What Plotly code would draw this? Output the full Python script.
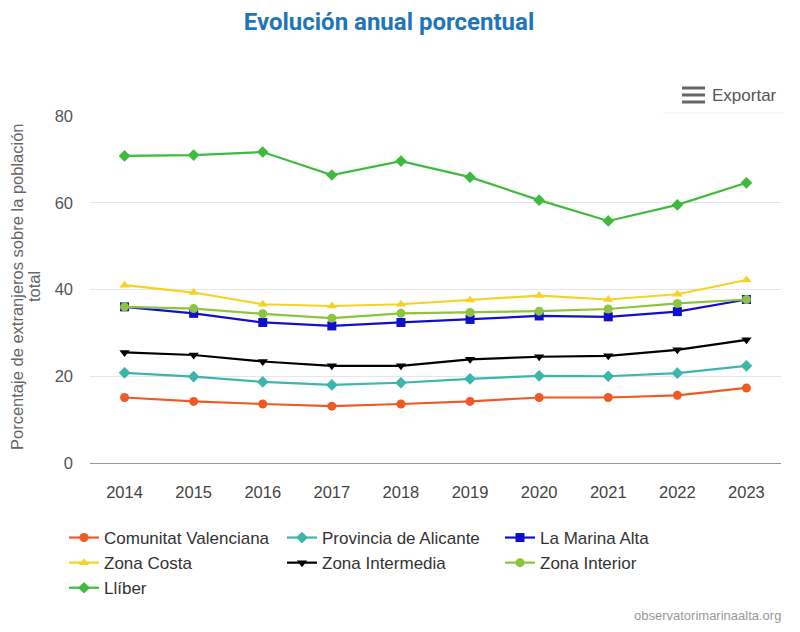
import plotly.graph_objects as go

years = ["2014", "2015", "2016", "2017", "2018", "2019", "2020", "2021", "2022", "2023"]

comunitat_valenciana = [15.1, 14.2, 13.6, 13.1, 13.6, 14.2, 15.1, 15.1, 15.6, 17.3]
provincia_alicante = [20.8, 19.9, 18.7, 18.0, 18.5, 19.4, 20.1, 20.0, 20.7, 22.4]
la_marina_alta = [36.0, 34.5, 32.4, 31.6, 32.4, 33.1, 33.9, 33.7, 34.9, 37.7]
zona_costa = [41.0, 39.3, 36.6, 36.2, 36.6, 37.6, 38.6, 37.7, 38.9, 42.2]
zona_intermedia = [25.5, 24.9, 23.4, 22.4, 22.4, 23.9, 24.5, 24.7, 26.1, 28.4]
zona_interior = [36.0, 35.6, 34.4, 33.4, 34.5, 34.7, 35.0, 35.5, 36.8, 37.7]
lliber = [70.8, 71.0, 71.7, 66.4, 69.6, 65.9, 60.6, 55.8, 59.5, 64.6]

series = [
    ("Comunitat Valenciana", comunitat_valenciana, "#ef5a24", "circle"),
    ("Provincia de Alicante", provincia_alicante, "#3cb5ab", "diamond"),
    ("La Marina Alta", la_marina_alta, "#1010cc", "square"),
    ("Zona Costa", zona_costa, "#f7d225", "triangle-up"),
    ("Zona Intermedia", zona_intermedia, "#000000", "triangle-down"),
    ("Zona Interior", zona_interior, "#8cc43f", "circle"),
    ("Llíber", lliber, "#3fba3f", "diamond"),
]

fig = go.Figure()
for name, vals, color, sym in series:
    fig.add_trace(go.Scatter(
        x=years, y=vals, name=name, mode="lines+markers",
        line=dict(color=color, width=2.2),
        marker=dict(symbol=sym, size=9, color=color),
    ))

font = "Liberation Sans, Arial, sans-serif"
OFF = 8  # page body margin
W, H = 800 - OFF, 632 - OFF
# plot area in page pixels
PL, PR, PT, PB = 90, 781, 116, 463
PW, PH = PR - PL, PB - PT


def px_x(x):
    return (x - PL) / PW


def px_y(y):
    return (PB - y) / PH


fig.update_layout(
    width=W, height=H,
    paper_bgcolor="white", plot_bgcolor="white",
    margin=dict(l=PL - OFF, r=800 - PR, t=PT - OFF, b=632 - PB, autoexpand=False),
    title=dict(text="<b>Evolución anual porcentual</b>", x=(389 - OFF) / W, xanchor="center",
               y=1 - (22 - OFF) / H, yanchor="middle",
               font=dict(family="Roboto, sans-serif", size=24, color="#1f75b8")),
    font=dict(family=font, size=16, color="#444444"),
    showlegend=True,
    legend=dict(orientation="h", x=px_x(64), xanchor="left", y=px_y(520),
                yanchor="top",
                entrywidth=173, entrywidthmode="pixels",
                font=dict(family=font, size=17, color="#333333"),
                itemwidth=30, tracegroupgap=0),
    xaxis=dict(type="category", showgrid=False, showline=True, linecolor="#999999",
               linewidth=1, ticks="", tickfont=dict(size=16.5, color="#444444"),
               range=[-0.5, 9.5], automargin=False, ticklabelstandoff=14),
    yaxis=dict(range=[0, 80], tickvals=[0, 20, 40, 60, 80], showgrid=True,
               gridcolor="#e6e6e6", zeroline=False, showline=False, ticks="",
               tickfont=dict(size=16.5, color="#555555"), automargin=False,
               ticklabelstandoff=16),
)

# y-axis title (two lines, tight spacing)
fig.add_annotation(text="Porcentaje de extranjeros sobre la población",
                   xref="paper", yref="paper", x=px_x(17), y=px_y(287),
                   xanchor="center", yanchor="middle", textangle=-90, showarrow=False,
                   font=dict(family=font, size=16.5, color="#666666"))
fig.add_annotation(text="total",
                   xref="paper", yref="paper", x=px_x(34), y=px_y(287),
                   xanchor="center", yanchor="middle", textangle=-90, showarrow=False,
                   font=dict(family=font, size=16.5, color="#666666"))

# export button (hamburger icon + label)
for yy in (88, 95, 102):
    fig.add_shape(type="rect", xref="paper", yref="paper",
                  x0=px_x(682), x1=px_x(705), y0=px_y(yy - 1.5), y1=px_y(yy + 1.5),
                  fillcolor="#666666", line=dict(width=0))
fig.add_shape(type="line", xref="paper", yref="paper",
              x0=px_x(663), x1=px_x(783), y0=px_y(113), y1=px_y(113),
              line=dict(color="#eeeeee", width=1))
fig.add_annotation(text="Exportar", xref="paper", yref="paper",
                   x=px_x(710), y=px_y(95), xanchor="left", yanchor="middle",
                   showarrow=False, font=dict(family=font, size=17, color="#555555"))
fig.add_annotation(text="observatorimarinaalta.org", xref="paper", yref="paper",
                   x=px_x(783), y=px_y(615), xanchor="right", yanchor="middle",
                   showarrow=False, font=dict(family=font, size=13, color="#999999"))

fig.write_html("out.html")
